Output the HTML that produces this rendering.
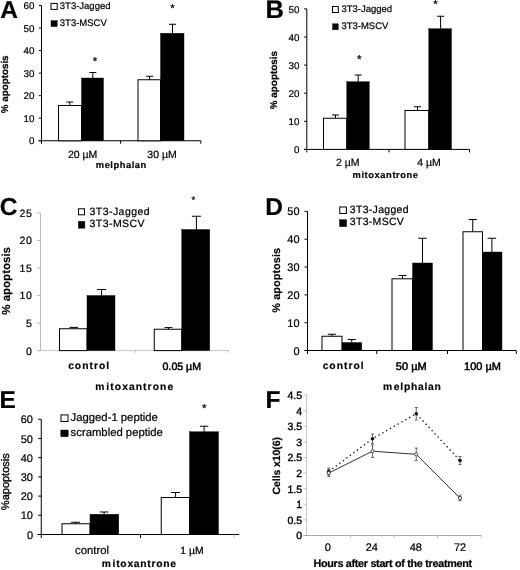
<!DOCTYPE html>
<html><head><meta charset="utf-8"><title>Figure</title>
<style>
html,body{margin:0;padding:0;background:#fff;}
body{width:520px;height:570px;overflow:hidden;}
svg{display:block;filter:blur(0.35px);}
text{font-family:"Liberation Sans",sans-serif;fill:#000;text-rendering:geometricPrecision;stroke:#000;stroke-width:0.22;}
.b{font-weight:bold;stroke-width:0.18;}
.ax{stroke:#000;stroke-width:1.0;fill:none;}
.axg{stroke:#adadad;stroke-width:0.85;fill:none;}
.sb{stroke-width:0.5;}
.axf{stroke:#b8b8b8;stroke-width:0.85;fill:none;}
.wb{fill:#fff;stroke:#000;stroke-width:1.0;}
.bb{fill:#000;stroke:#000;stroke-width:0.4;}
.eb{stroke:#000;stroke-width:1.0;fill:none;}
</style></head><body>
<svg width="520" height="570" viewBox="0 0 520 570">
<rect x="0" y="0" width="520" height="570" fill="#fff"/>

<text x="0.20" y="17.60" font-size="24.5" text-anchor="start" class="b" >A</text>
<path class="ax" d="M41.50 5.50V140.75"/>
<path class="ax" d="M38.80 140.75H41.50"/>
<text x="34.50" y="144.35" font-size="9.8" text-anchor="end" class="" >0</text>
<path class="ax" d="M38.80 118.21H41.50"/>
<text x="34.50" y="121.81" font-size="9.8" text-anchor="end" class="" >10</text>
<path class="ax" d="M38.80 95.67H41.50"/>
<text x="34.50" y="99.27" font-size="9.8" text-anchor="end" class="" >20</text>
<path class="ax" d="M38.80 73.12H41.50"/>
<text x="34.50" y="76.72" font-size="9.8" text-anchor="end" class="" >30</text>
<path class="ax" d="M38.80 50.58H41.50"/>
<text x="34.50" y="54.18" font-size="9.8" text-anchor="end" class="" >40</text>
<path class="ax" d="M38.80 28.04H41.50"/>
<text x="34.50" y="31.64" font-size="9.8" text-anchor="end" class="" >50</text>
<path class="ax" d="M38.80 5.50H41.50"/>
<text x="34.50" y="9.10" font-size="9.8" text-anchor="end" class="" >60</text>
<path class="ax" d="M38.5 140.75H200.8M120.6 140.75v3M200.8 140.75v3M41.5 140.75v3"/>
<rect class="wb" x="58.50" y="105.50" width="23.00" height="35.25"/>
<path class="eb" d="M69.80 105.50V102.00M66.30 102.00H73.30"/>
<rect class="bb" x="81.50" y="78.00" width="22.00" height="62.75"/>
<path class="eb" d="M92.80 78.00V72.50M89.30 72.50H96.30"/>
<rect class="wb" x="138.00" y="79.75" width="22.50" height="61.00"/>
<path class="eb" d="M149.60 79.75V76.25M146.10 76.25H153.10"/>
<rect class="bb" x="160.50" y="33.25" width="23.50" height="107.50"/>
<path class="eb" d="M172.50 33.25V24.25M169.00 24.25H176.00"/>
<text x="95.00" y="65.33" font-size="11.5" text-anchor="middle" class="" >*</text>
<text x="172.50" y="11.83" font-size="11.5" text-anchor="middle" class="" >*</text>
<text x="82.60" y="157.80" font-size="10.5" text-anchor="middle" class="" >20 µM</text>
<text x="162.00" y="157.80" font-size="10.5" text-anchor="middle" class="" >30 µM</text>
<text x="121.30" y="167.80" font-size="9.3" text-anchor="middle" class="b" letter-spacing="0.55">melphalan</text>
<text transform="translate(8.10 84.30) rotate(-90)" font-size="9.8" text-anchor="middle" class="b" style="stroke-width:.2">% apoptosis</text>
<rect class="wb" x="51" y="3.4" width="6.2" height="6"/>
<text x="59.80" y="8.50" font-size="9.5" text-anchor="start" class="" >3T3-Jagged</text>
<rect class="bb" x="51" y="20.6" width="6.2" height="6"/>
<text x="59.80" y="25.60" font-size="9.5" text-anchor="start" class="" >3T3-MSCV</text>
<text x="265.50" y="18.00" font-size="25.5" text-anchor="start" class="b" >B</text>
<path class="ax" d="M306.80 8.90V149.40"/>
<path class="ax" d="M304.10 149.40H306.80"/>
<text x="299.50" y="153.00" font-size="9.8" text-anchor="end" class="" >0</text>
<path class="ax" d="M304.10 121.30H306.80"/>
<text x="299.50" y="124.90" font-size="9.8" text-anchor="end" class="" >10</text>
<path class="ax" d="M304.10 93.20H306.80"/>
<text x="299.50" y="96.80" font-size="9.8" text-anchor="end" class="" >20</text>
<path class="ax" d="M304.10 65.10H306.80"/>
<text x="299.50" y="68.70" font-size="9.8" text-anchor="end" class="" >30</text>
<path class="ax" d="M304.10 37.00H306.80"/>
<text x="299.50" y="40.60" font-size="9.8" text-anchor="end" class="" >40</text>
<path class="ax" d="M304.10 8.90H306.80"/>
<text x="299.50" y="12.50" font-size="9.8" text-anchor="end" class="" >50</text>
<path class="ax" d="M304 149.4H469.5M389 149.4v3M469.5 149.4v3M306.8 149.4v3"/>
<rect class="wb" x="323.50" y="118.25" width="23.25" height="31.15"/>
<path class="eb" d="M335.50 118.25V115.00M332.00 115.00H339.00"/>
<rect class="bb" x="346.75" y="81.75" width="22.50" height="67.65"/>
<path class="eb" d="M358.20 81.75V75.00M354.70 75.00H361.70"/>
<rect class="wb" x="405.00" y="110.50" width="23.75" height="38.90"/>
<path class="eb" d="M417.50 110.50V106.75M414.00 106.75H421.00"/>
<rect class="bb" x="428.75" y="28.75" width="22.75" height="120.65"/>
<path class="eb" d="M440.60 28.75V16.25M437.10 16.25H444.10"/>
<text x="359.25" y="62.83" font-size="11.5" text-anchor="middle" class="" >*</text>
<text x="435.50" y="7.83" font-size="11.5" text-anchor="middle" class="" >*</text>
<text x="347.75" y="165.75" font-size="10.5" text-anchor="middle" class="" >2 µM</text>
<text x="429.00" y="165.75" font-size="10.5" text-anchor="middle" class="" >4 µM</text>
<text x="385.60" y="177.80" font-size="9.3" text-anchor="middle" class="b" letter-spacing="0.6">mitoxantrone</text>
<text transform="translate(277.10 80.10) rotate(-90)" font-size="9.9" text-anchor="middle" class="b" style="stroke-width:.2">% apoptosis</text>
<rect class="wb" x="332.5" y="6.5" width="5.8" height="6"/>
<text x="341.40" y="11.70" font-size="9.5" text-anchor="start" class="" >3T3-Jagged</text>
<rect class="bb" x="332.5" y="23.8" width="5.8" height="6"/>
<text x="341.40" y="28.90" font-size="9.5" text-anchor="start" class="" >3T3-MSCV</text>
<text x="-0.30" y="214.80" font-size="24.5" text-anchor="start" class="b" >C</text>
<path class="axg" d="M40.50 213.00V350.60"/>
<path class="axg" d="M37.00 350.60H40.50"/>
<text x="32.50" y="354.50" font-size="10.6" text-anchor="end" class="" letter-spacing="0.6" >0</text>
<path class="axg" d="M37.00 323.08H40.50"/>
<text x="32.50" y="326.98" font-size="10.6" text-anchor="end" class="" letter-spacing="0.6" >5</text>
<path class="axg" d="M37.00 295.56H40.50"/>
<text x="32.50" y="299.46" font-size="10.6" text-anchor="end" class="" letter-spacing="0.6" >10</text>
<path class="axg" d="M37.00 268.04H40.50"/>
<text x="32.50" y="271.94" font-size="10.6" text-anchor="end" class="" letter-spacing="0.6" >15</text>
<path class="axg" d="M37.00 240.52H40.50"/>
<text x="32.50" y="244.42" font-size="10.6" text-anchor="end" class="" letter-spacing="0.6" >20</text>
<path class="axg" d="M37.00 213.00H40.50"/>
<text x="32.50" y="216.90" font-size="10.6" text-anchor="end" class="" letter-spacing="0.6" >25</text>
<path class="axg" style="stroke:#bdbdbd" d="M37 350.6H229M135.5 350.6v2.2M228.6 350.6v2.2"/>
<rect class="wb" x="59.50" y="328.75" width="27.50" height="21.85"/>
<path class="eb" d="M73.80 328.75V327.40M69.55 327.40H78.05"/>
<rect class="bb" x="87.00" y="295.50" width="28.00" height="55.10"/>
<path class="eb" d="M101.60 295.50V289.50M97.10 289.50H106.10"/>
<rect class="wb" x="154.25" y="329.25" width="27.50" height="21.35"/>
<path class="eb" d="M168.50 329.25V327.60M164.50 327.60H172.50"/>
<rect class="bb" x="181.75" y="229.50" width="28.00" height="121.10"/>
<path class="eb" d="M196.40 229.50V216.25M191.90 216.25H200.90"/>
<text x="193.25" y="203.49" font-size="9.5" text-anchor="middle" class="" >*</text>
<text x="89.10" y="369.10" font-size="10.3" text-anchor="middle" class="b" letter-spacing="1.0">control</text>
<text x="181.80" y="369.50" font-size="10.6" text-anchor="middle" class="sb" >0.05 µM</text>
<text x="134.70" y="389.50" font-size="10.3" text-anchor="middle" class="b" letter-spacing="1.07">m<tspan dx="0.9">itoxantrone</tspan></text>
<text transform="translate(9.60 280.90) rotate(-90)" font-size="11.5" text-anchor="middle" class="b" style="stroke-width:.15">% apoptosis</text>
<rect class="wb" x="78.5" y="208.8" width="6" height="6"/>
<text x="89.50" y="214.50" font-size="10.5" text-anchor="start" class="" letter-spacing="0.45">3T3-Jagged</text>
<rect class="bb" x="78.3" y="221.3" width="6.6" height="6.9"/>
<text x="89.50" y="226.50" font-size="10.5" text-anchor="start" class="" letter-spacing="0.45">3T3-MSCV</text>
<text x="265.30" y="215.00" font-size="24.5" text-anchor="start" class="b" >D</text>
<path class="ax" d="M307.50 211.40V350.50"/>
<path class="ax" d="M304.50 350.50H307.50"/>
<text x="299.60" y="354.50" font-size="11" text-anchor="end" class="" >0</text>
<path class="ax" d="M304.50 322.68H307.50"/>
<text x="299.60" y="326.68" font-size="11" text-anchor="end" class="" >10</text>
<path class="ax" d="M304.50 294.86H307.50"/>
<text x="299.60" y="298.86" font-size="11" text-anchor="end" class="" >20</text>
<path class="ax" d="M304.50 267.04H307.50"/>
<text x="299.60" y="271.04" font-size="11" text-anchor="end" class="" >30</text>
<path class="ax" d="M304.50 239.22H307.50"/>
<text x="299.60" y="243.22" font-size="11" text-anchor="end" class="" >40</text>
<path class="ax" d="M304.50 211.40H307.50"/>
<text x="299.60" y="215.40" font-size="11" text-anchor="end" class="" >50</text>
<path class="ax" d="M304.5 350.5H516.25M376.75 350.5v3.5M447.5 350.5v3.5M516.25 350.5v3.5M307.5 350.5v3.5"/>
<rect class="wb" x="322.00" y="336.25" width="20.00" height="14.25"/>
<path class="eb" d="M331.90 336.25V334.25M327.90 334.25H335.90"/>
<rect class="bb" x="342.00" y="342.50" width="19.75" height="8.00"/>
<path class="eb" d="M351.75 342.50V339.50M347.75 339.50H355.75"/>
<rect class="wb" x="392.00" y="278.80" width="20.50" height="71.70"/>
<path class="eb" d="M402.50 278.80V275.50M398.50 275.50H406.50"/>
<rect class="bb" x="412.50" y="263.00" width="20.00" height="87.50"/>
<path class="eb" d="M422.50 263.00V238.25M418.25 238.25H426.75"/>
<rect class="wb" x="463.00" y="231.75" width="19.50" height="118.75"/>
<path class="eb" d="M472.75 231.75V219.50M468.75 219.50H476.75"/>
<rect class="bb" x="482.50" y="252.00" width="19.50" height="98.50"/>
<path class="eb" d="M491.90 252.00V238.25M487.65 238.25H496.15"/>
<text x="343.60" y="369.10" font-size="10.3" text-anchor="middle" class="b" letter-spacing="1.0">control</text>
<text x="411.25" y="369.50" font-size="11" text-anchor="middle" class="sb" >50 µM</text>
<text x="482.50" y="369.50" font-size="11" text-anchor="middle" class="sb" >100 µM</text>
<text x="412.30" y="390.00" font-size="10.3" text-anchor="middle" class="b" letter-spacing="0.75">m<tspan dx="0.9">elphalan</tspan></text>
<text transform="translate(279.90 280.30) rotate(-90)" font-size="11" text-anchor="middle" class="b" style="stroke-width:.15">% apoptosis</text>
<rect class="wb" x="339.8" y="207" width="6.6" height="6.5"/>
<text x="349.80" y="212.50" font-size="10.5" text-anchor="start" class="" letter-spacing="0.3">3T3-Jagged</text>
<rect class="bb" x="339.5" y="219.7" width="7.2" height="7"/>
<text x="349.80" y="224.70" font-size="10.5" text-anchor="start" class="" letter-spacing="0.3">3T3-MSCV</text>
<text x="-0.60" y="407.60" font-size="24.5" text-anchor="start" class="b" >E</text>
<path class="ax" d="M41.25 419.30V534.50"/>
<path class="ax" d="M38.25 534.50H41.25"/>
<text x="33.00" y="538.50" font-size="11" text-anchor="end" class="" >0</text>
<path class="ax" d="M38.25 515.30H41.25"/>
<text x="33.00" y="519.30" font-size="11" text-anchor="end" class="" >10</text>
<path class="ax" d="M38.25 496.10H41.25"/>
<text x="33.00" y="500.10" font-size="11" text-anchor="end" class="" >20</text>
<path class="ax" d="M38.25 476.90H41.25"/>
<text x="33.00" y="480.90" font-size="11" text-anchor="end" class="" >30</text>
<path class="ax" d="M38.25 457.70H41.25"/>
<text x="33.00" y="461.70" font-size="11" text-anchor="end" class="" >40</text>
<path class="ax" d="M38.25 438.50H41.25"/>
<text x="33.00" y="442.50" font-size="11" text-anchor="end" class="" >50</text>
<path class="ax" d="M38.25 419.30H41.25"/>
<text x="33.00" y="423.30" font-size="11" text-anchor="end" class="" >60</text>
<path class="ax" d="M37.5 534.5H239.25M140.5 534.5v3.5M41.25 534.5v3.5"/>
<path class="axg" d="M233.75 534.5v3"/>
<rect class="wb" x="62.00" y="523.75" width="28.00" height="10.75"/>
<path class="eb" d="M75.60 523.75V522.25M71.10 522.25H80.10"/>
<rect class="bb" x="90.00" y="514.25" width="28.75" height="20.25"/>
<path class="eb" d="M104.10 514.25V512.00M99.85 512.00H108.35"/>
<rect class="wb" x="161.25" y="497.50" width="28.25" height="37.00"/>
<path class="eb" d="M175.60 497.50V492.50M171.10 492.50H180.10"/>
<rect class="bb" x="189.50" y="431.75" width="29.00" height="102.75"/>
<path class="eb" d="M204.10 431.75V426.25M199.85 426.25H208.35"/>
<text x="204.25" y="411.83" font-size="11.5" text-anchor="middle" class="" >*</text>
<text x="92.00" y="553.75" font-size="11.3" text-anchor="middle" class="" >control</text>
<text x="192.00" y="553.75" font-size="10.4" text-anchor="middle" class="" >1 µM</text>
<text x="139.30" y="567.20" font-size="10.3" text-anchor="middle" class="b" letter-spacing="0.74">m<tspan dx="0.9">itoxantrone</tspan></text>
<text transform="translate(8.60 481.70) rotate(-90)" font-size="11" text-anchor="middle" class="" style="stroke-width:.35">%apoptosis</text>
<rect class="wb" x="61" y="414.9" width="7" height="6.6"/>
<text x="70.60" y="421.10" font-size="11.3" text-anchor="start" class="" >Jagged-1 peptide</text>
<rect class="bb" x="60.8" y="430" width="7.4" height="6.8"/>
<text x="70.60" y="436.30" font-size="11.3" text-anchor="start" class="" >scrambled peptide</text>
<text x="265.60" y="408.30" font-size="24.5" text-anchor="start" class="b" >F</text>
<path class="axf" d="M306.60 395.00V535.50"/>
<path class="axf" d="M303.60 535.50H306.60"/>
<text x="302.00" y="539.40" font-size="10.5" text-anchor="end" class="" style="stroke-width:0.38">0</text>
<path class="axf" d="M303.60 519.89H306.60"/>
<text x="302.00" y="523.79" font-size="10.5" text-anchor="end" class="" style="stroke-width:0.38">0.5</text>
<path class="axf" d="M303.60 504.28H306.60"/>
<text x="302.00" y="508.18" font-size="10.5" text-anchor="end" class="" style="stroke-width:0.38">1</text>
<path class="axf" d="M303.60 488.67H306.60"/>
<text x="302.00" y="492.57" font-size="10.5" text-anchor="end" class="" style="stroke-width:0.38">1.5</text>
<path class="axf" d="M303.60 473.06H306.60"/>
<text x="302.00" y="476.96" font-size="10.5" text-anchor="end" class="" style="stroke-width:0.38">2</text>
<path class="axf" d="M303.60 457.44H306.60"/>
<text x="302.00" y="461.34" font-size="10.5" text-anchor="end" class="" style="stroke-width:0.38">2.5</text>
<path class="axf" d="M303.60 441.83H306.60"/>
<text x="302.00" y="445.73" font-size="10.5" text-anchor="end" class="" style="stroke-width:0.38">3</text>
<path class="axf" d="M303.60 426.22H306.60"/>
<text x="302.00" y="430.12" font-size="10.5" text-anchor="end" class="" style="stroke-width:0.38">3.5</text>
<path class="axf" d="M303.60 410.61H306.60"/>
<text x="302.00" y="414.51" font-size="10.5" text-anchor="end" class="" style="stroke-width:0.38">4</text>
<path class="axf" d="M303.60 395.00H306.60"/>
<text x="302.00" y="398.90" font-size="10.5" text-anchor="end" class="" style="stroke-width:0.38">4.5</text>
<path class="axf" style="stroke:#9a9a9a" d="M303.6 535.5H481.25"/>
<path class="axf" d="M350.5 535.5v2.6M394 535.5v2.6M437.5 535.5v2.6M481.25 535.5v2.6"/>
<polyline fill="none" stroke="#333" stroke-width="1" points="328.75,473.06 372.50,451.20 416.25,454.32 460.00,498.03"/>
<polyline fill="none" stroke="#000" stroke-width="1.3" stroke-dasharray="1.3 3.1" points="328.75,471.49 372.50,438.71 416.25,413.73 460.00,460.57"/>
<path class="eb" style="stroke-width:.8;stroke:#444" d="M328.75 474.93V468.06M327.25 468.06H330.25M327.25 474.93H330.25"/>
<circle cx="328.75" cy="471.49" r="1.8" fill="#111"/>
<path class="eb" style="stroke-width:.8;stroke:#444" d="M372.50 443.39V434.03M371.00 434.03H374.00M371.00 443.39H374.00"/>
<circle cx="372.50" cy="438.71" r="1.8" fill="#111"/>
<path class="eb" style="stroke-width:.8;stroke:#444" d="M416.25 419.98V407.49M414.75 407.49H417.75M414.75 419.98H417.75"/>
<circle cx="416.25" cy="413.73" r="1.8" fill="#111"/>
<path class="eb" style="stroke-width:.8;stroke:#444" d="M460.00 464.63V456.51M458.50 456.51H461.50M458.50 464.63H461.50"/>
<circle cx="460.00" cy="460.57" r="1.8" fill="#111"/>
<path class="eb" style="stroke-width:.8;stroke:#444" d="M328.75 476.49V469.62M327.25 469.62H330.25M327.25 476.49H330.25"/>
<circle cx="328.75" cy="473.06" r="1.6" fill="#fff" stroke="#333" stroke-width=".9"/>
<path class="eb" style="stroke-width:.8;stroke:#444" d="M372.50 457.44V444.96M371.00 444.96H374.00M371.00 457.44H374.00"/>
<circle cx="372.50" cy="451.20" r="1.6" fill="#fff" stroke="#333" stroke-width=".9"/>
<path class="eb" style="stroke-width:.8;stroke:#444" d="M416.25 460.57V448.08M414.75 448.08H417.75M414.75 460.57H417.75"/>
<circle cx="416.25" cy="454.32" r="1.6" fill="#fff" stroke="#333" stroke-width=".9"/>
<path class="eb" style="stroke-width:.8;stroke:#444" d="M460.00 500.84V495.22M458.50 495.22H461.50M458.50 500.84H461.50"/>
<circle cx="460.00" cy="498.03" r="1.6" fill="#fff" stroke="#333" stroke-width=".9"/>
<text x="327.80" y="550.50" font-size="11" text-anchor="middle" class="" >0</text>
<text x="371.75" y="550.50" font-size="11" text-anchor="middle" class="" >24</text>
<text x="415.75" y="550.50" font-size="11" text-anchor="middle" class="" >48</text>
<text x="460.00" y="550.50" font-size="11" text-anchor="middle" class="" >72</text>
<text x="392.60" y="566.80" font-size="10.8" text-anchor="middle" class="b" letter-spacing="-0.3" style="stroke-width:.22">Hours after start of the treatment</text>
<text transform="translate(280.40 465.80) rotate(-90)" font-size="10.5" text-anchor="middle" class="b" letter-spacing="-0.1">Cells x10(6)</text>
</svg></body></html>
